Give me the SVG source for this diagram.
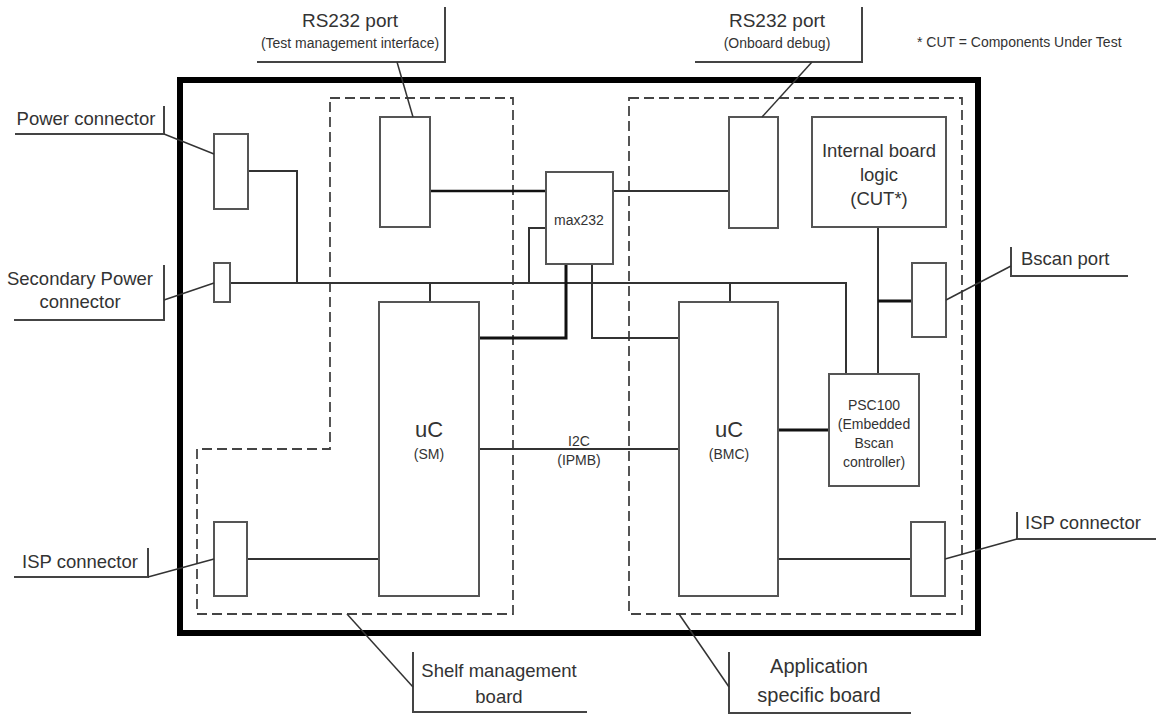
<svg xmlns="http://www.w3.org/2000/svg" width="1156" height="715" viewBox="0 0 1156 715">
<style>
.bg{fill:#fff}
.frame{fill:none;stroke:#000;stroke-width:6;stroke-linejoin:miter}
.dash{fill:none;stroke:#444;stroke-width:1.8;stroke-dasharray:10,5}
.box{fill:#fff;stroke:#555;stroke-width:2}
.ln{fill:none;stroke:#333;stroke-width:2}
.thk{fill:none;stroke:#111;stroke-width:3}
.call{fill:none;stroke:#444;stroke-width:2}
.lead{fill:none;stroke:#333;stroke-width:1.5}
text{font-family:"Liberation Sans",Arial,sans-serif;fill:#333}
.lbl{font-size:18.5px}
.sm{font-size:14px}
.mid{text-anchor:middle}
</style>
<rect class="bg" x="0" y="0" width="1156" height="715"/>

<g id="board-frame">
<rect class="frame" x="180" y="80" width="798" height="553"/>
</g>

<g id="shelf-management-area">
<path class="dash" d="M330,98 H513 V614 H197 V449 H330 Z"/>
</g>
<g id="application-specific-area">
<rect class="dash" x="629" y="98" width="333" height="516"/>
</g>

<g id="connectors">
<path class="ln" d="M248,171 H297 V283"/>
<path class="ln" d="M230,283 H846 V374"/>
<path class="ln" d="M430,283 V302"/>
<path class="ln" d="M730,283 V302"/>
<path class="ln" d="M546,228 H529 V283"/>
<path class="thk" d="M566,264 V338 H480"/>
<path class="ln" d="M592,264 V338 H679"/>
<path class="thk" d="M430,191 H546" style="stroke-width:2.5"/>
<path class="ln" d="M613,191 H729"/>
<path class="ln" d="M480,449 H679"/>
<path class="ln" d="M878,227 V374"/>
<path class="thk" d="M878,301 H912"/>
<path class="thk" d="M778,430 H829"/>
<path class="ln" d="M247,559 H379"/>
<path class="ln" d="M778,559 H911"/>
</g>

<g id="power-connector">
<rect class="box" x="214" y="134" width="34" height="75"/>
</g>
<g id="secondary-power-connector">
<rect class="box" x="214" y="263" width="16" height="39"/>
</g>
<g id="rs232-test-port">
<rect class="box" x="380" y="117" width="50" height="110"/>
</g>
<g id="rs232-debug-port">
<rect class="box" x="729" y="117" width="49" height="111"/>
</g>
<g id="internal-board-logic">
<rect class="box" x="812" y="117" width="134" height="110"/>
<text class="lbl mid" x="879" y="157">Internal board</text>
<text class="lbl mid" x="879" y="181">logic</text>
<text class="lbl mid" x="879" y="205">(CUT*)</text>
</g>
<g id="max232">
<rect class="box" x="546" y="172" width="67" height="92"/>
<text class="sm mid" x="579" y="225">max232</text>
</g>
<g id="bscan-port">
<rect class="box" x="912" y="263" width="34" height="74"/>
</g>
<g id="uc-sm">
<rect class="box" x="379" y="302" width="100" height="294"/>
<text class="mid" x="429" y="437" style="font-size:22px">uC</text>
<text class="sm mid" x="429" y="459">(SM)</text>
</g>
<g id="uc-bmc">
<rect class="box" x="679" y="302" width="99" height="294"/>
<text class="mid" x="729" y="437" style="font-size:22px">uC</text>
<text class="sm mid" x="729" y="459">(BMC)</text>
</g>
<g id="psc100">
<rect class="box" x="829" y="374" width="90" height="112"/>
<text class="sm mid" x="874" y="410">PSC100</text>
<text class="sm mid" x="874" y="429">(Embedded</text>
<text class="sm mid" x="874" y="448">Bscan</text>
<text class="sm mid" x="874" y="467">controller)</text>
</g>
<g id="isp-sm">
<rect class="box" x="214" y="522" width="33" height="74"/>
</g>
<g id="isp-bmc">
<rect class="box" x="911" y="522" width="34" height="74"/>
</g>

<g id="i2c-label">
<text class="sm mid" x="579" y="446">I2C</text>
<text class="sm mid" x="579" y="465">(IPMB)</text>
</g>

<g id="callout-rs232-test">
<polyline class="call" points="257,62 445,62 445,7"/>
<line class="lead" x1="397" y1="62" x2="413" y2="117"/>
<text class="mid" x="350" y="27" style="font-size:19px">RS232 port</text>
<text class="sm mid" x="350" y="48">(Test management interface)</text>
</g>
<g id="callout-rs232-debug">
<polyline class="call" points="695,62 862,62 862,7"/>
<line class="lead" x1="812" y1="62" x2="762" y2="117"/>
<text class="mid" x="777" y="27" style="font-size:19px">RS232 port</text>
<text class="sm mid" x="777" y="48">(Onboard debug)</text>
</g>
<g id="cut-note">
<text class="sm" x="917" y="47">* CUT = Components Under Test</text>
</g>
<g id="callout-power">
<polyline class="call" points="15,134 164,134 164,106"/>
<line class="lead" x1="164" y1="134" x2="214" y2="154"/>
<text class="lbl mid" x="86" y="125">Power connector</text>
</g>
<g id="callout-secondary-power">
<polyline class="call" points="14,320 164,320 164,265"/>
<line class="lead" x1="164" y1="300" x2="214" y2="283"/>
<text class="lbl mid" x="80" y="285">Secondary Power</text>
<text class="lbl mid" x="80" y="308">connector</text>
</g>
<g id="callout-isp-left">
<polyline class="call" points="14,577 148,577 148,548"/>
<line class="lead" x1="148" y1="577" x2="214" y2="559"/>
<text class="lbl mid" x="80" y="568">ISP connector</text>
</g>
<g id="callout-shelf">
<polyline class="call" points="413,652 413,712 587,712"/>
<line class="lead" x1="347" y1="614" x2="413" y2="687"/>
<text class="lbl mid" x="499" y="677">Shelf management</text>
<text class="lbl mid" x="499" y="703">board</text>
</g>
<g id="callout-application">
<polyline class="call" points="729,652 729,713 911,713"/>
<line class="lead" x1="679" y1="614" x2="729" y2="687"/>
<text class="mid" x="819" y="673" style="font-size:20px">Application</text>
<text class="mid" x="819" y="702" style="font-size:20px">specific board</text>
</g>
<g id="callout-isp-right">
<polyline class="call" points="1017,512 1017,539 1156,539"/>
<line class="lead" x1="1017" y1="539" x2="945" y2="559"/>
<text class="lbl" x="1025" y="529">ISP connector</text>
</g>
<g id="callout-bscan">
<polyline class="call" points="1011,247 1011,276 1128,276"/>
<line class="lead" x1="1011" y1="266" x2="946" y2="300"/>
<text class="lbl" x="1021" y="265">Bscan port</text>
</g>
</svg>
